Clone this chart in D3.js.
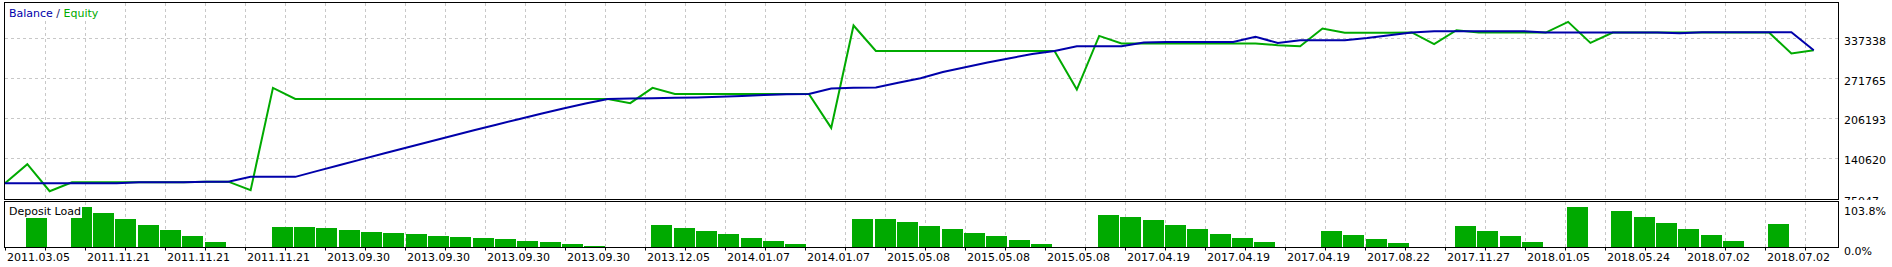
<!DOCTYPE html>
<html>
<head>
<meta charset="utf-8">
<title>Balance / Equity</title>
<script src="https://d3js.org/d3.v7.min.js"></script>
<style>
  body { margin: 0; background: #fff; }
  svg { display: block; font-family: 'DejaVu Sans', sans-serif; font-size: 11px; }
  .grid line { stroke: #c8c8c8; stroke-dasharray: 3,3; shape-rendering: crispEdges; }
  .frame { fill: none; stroke: #000; shape-rendering: crispEdges; }
  .bar { fill: #00aa00; shape-rendering: crispEdges; }
</style>
</head>
<body>
<div class="chart"></div>
<script>
'use strict';

// one value per trade operation
var balance = [
  100000, 100000, 100000, 100000, 100000, 100000, 101600, 101600, 101600, 102700,
  102700, 110500, 110500, 110500, 120300, 130000, 139600, 149300, 158800, 168200,
  177500, 186800, 196000, 205000, 213900, 222600, 230800, 238300, 239000, 239500,
  240100, 240600, 241900, 243200, 244900, 246000, 246500, 255400, 256700, 257000,
  264900, 272300, 282400, 290300, 298000, 305000, 311900, 317000, 324700, 324700,
  324700, 330800, 331800, 331800, 331800, 331800, 340000, 330100, 334600, 334600,
  334600, 338200, 342800, 347200, 349300, 349300, 349300, 349300, 349300, 347200,
  347200, 347200, 347200, 347200, 347200, 346000, 347700, 347700, 347700, 347700,
  347700, 318200
];

var equity = [
  100000, 131300, 87000, 101600, 101600, 101600, 101600, 101600, 101600, 102700,
  102700, 88700, 256400, 238300, 238300, 238300, 238300, 238300, 238300, 238300,
  238300, 238300, 238300, 238300, 238300, 238300, 238300, 238300, 231300, 256400,
  246500, 246500, 246500, 246500, 246500, 246500, 246500, 190800, 358700, 317000,
  317000, 317000, 317000, 317000, 317000, 317000, 317000, 317000, 253700, 341600,
  329100, 329100, 329100, 329100, 329100, 329100, 329100, 326400, 324700, 353700,
  346800, 346800, 346800, 347200, 328000, 350900, 347000, 347000, 347000, 347000,
  364600, 330100, 347200, 347200, 347200, 347200, 347200, 347200, 347200, 347200,
  312800, 318200
];

// deposit load, percent
var depositLoad = [
  0, 75.3, 0, 103.8, 88.2, 72.7, 57.1, 44.9, 28.5, 13.0,
  0, 0, 51.9, 51.9, 49.3, 44.9, 38.9, 36.3, 33.7, 28.5,
  26.0, 23.4, 20.8, 15.6, 13.0, 7.8, 2.6, 0, 0, 57.1,
  49.3, 41.5, 33.7, 23.4, 15.6, 7.8, 0, 0, 72.7, 72.7,
  64.9, 54.5, 46.7, 36.3, 28.5, 18.2, 7.8, 0, 0, 83.0,
  77.9, 70.1, 57.1, 46.7, 33.7, 23.4, 13.0, 0, 0, 41.5,
  31.1, 20.8, 10.4, 0, 0, 54.5, 41.5, 28.5, 13.0, 0,
  103.8, 0, 93.4, 77.9, 62.3, 46.7, 31.1, 15.6, 0, 59.7,
  0, 0
];

var dateLabels = [
  '2011.03.05', '2011.11.21', '2011.11.21', '2011.11.21', '2013.09.30', '2013.09.30',
  '2013.09.30', '2013.09.30', '2013.12.05', '2014.01.07', '2014.01.07', '2015.05.08',
  '2015.05.08', '2015.05.08', '2017.04.19', '2017.04.19', '2017.04.19', '2017.08.22',
  '2017.11.27', '2018.01.05', '2018.05.24', '2018.07.02', '2018.07.02'
];

var balanceTicks = [75047, 140620, 206193, 271765, 337338];
var loadTicks = [0, 103.8];

var width = 1892, height = 267;
var left = 5, right = 1839;
var step = 22.33;

var blue = '#0000aa', green = '#00aa00';

var svg = d3.select('.chart').append('svg')
  .attr('width', width)
  .attr('height', height);

var x = d3.scaleLinear()
  .domain([0, balance.length - 1])
  .range([left, left + (balance.length - 1) * step]);

var y = d3.scaleLinear()
  .domain([75047, 337338])
  .range([198.5, 38.5]);

var yLoad = d3.scaleLinear()
  .domain([0, 103.8])
  .range([247, 207]);

// grid every 40px, labels on every second one
var gridPx = d3.range(left, right, 40);
var tickValues = gridPx.map(function(p) { return x.invert(p); });

//////// upper panel: balance / equity
var upper = svg.append('g');

upper.append('g').attr('class', 'grid')
  .selectAll('line')
  .data(gridPx.slice(1))
  .enter().append('line')
  .attr('x1', function(d) { return d + 0.5; })
  .attr('x2', function(d) { return d + 0.5; })
  .attr('y1', 3)
  .attr('y2', 199);

upper.append('g').attr('class', 'grid')
  .selectAll('line')
  .data(balanceTicks.slice(1))
  .enter().append('line')
  .attr('x1', left)
  .attr('x2', right)
  .attr('y1', function(d) { return Math.round(y(d) - 0.5) + 0.5; })
  .attr('y2', function(d) { return Math.round(y(d) - 0.5) + 0.5; });

var line = d3.line()
  .x(function(d, i) { return x(i); })
  .y(function(d) { return y(d); });

upper.append('path')
  .datum(equity)
  .attr('fill', 'none')
  .attr('stroke', green)
  .attr('stroke-width', 2)
  .attr('d', line);

upper.append('path')
  .datum(balance)
  .attr('fill', 'none')
  .attr('stroke', blue)
  .attr('stroke-width', 2)
  .attr('d', line);

// legend box hides the grid behind it
upper.append('rect')
  .attr('x', left + 1).attr('y', 3)
  .attr('width', 95).attr('height', 18)
  .attr('fill', '#fff');

var legend = upper.append('text')
  .attr('x', 9)
  .attr('y', 16.5);
legend.append('tspan').attr('fill', blue).text('Balance');
legend.append('tspan').attr('fill', '#1a1a6a').text(' / ');
legend.append('tspan').attr('fill', green).text('Equity');

upper.append('rect')
  .attr('class', 'frame')
  .attr('x', 4.5).attr('y', 2.5)
  .attr('width', 1834).attr('height', 197);

var yAxis = upper.append('g')
  .attr('transform', 'translate(' + right + ',0)')
  .call(d3.axisRight(y).tickValues(balanceTicks).tickSize(0).tickPadding(5)
    .tickFormat(d3.format('d')));
yAxis.select('.domain').remove();
yAxis.attr('font-family', null).attr('font-size', null);
yAxis.selectAll('text')
  .attr('dy', null)
  .attr('y', 5.5)
  .attr('fill', '#000');

// lower panel sits on top and clips the last balance label
svg.append('rect')
  .attr('x', 0).attr('y', 200)
  .attr('width', width).attr('height', height - 200)
  .attr('fill', '#fff');

//////// lower panel: deposit load
var lower = svg.append('g');

lower.append('g').attr('class', 'grid')
  .selectAll('line')
  .data(gridPx.slice(1))
  .enter().append('line')
  .attr('x1', function(d) { return d + 0.5; })
  .attr('x2', function(d) { return d + 0.5; })
  .attr('y1', 202)
  .attr('y2', 247);

lower.selectAll('.bar')
  .data(depositLoad.map(function(v, i) { return {i: i, v: v}; })
    .filter(function(d) { return d.v > 0; }))
  .enter().append('rect')
  .attr('class', 'bar')
  .attr('x', function(d) { return Math.round(x(d.i) - 1.3); })
  .attr('width', 21)
  .attr('y', function(d) { return Math.round(yLoad(d.v)); })
  .attr('height', function(d) { return yLoad(0) - Math.round(yLoad(d.v)); });

lower.append('rect')
  .attr('x', left + 1).attr('y', 202)
  .attr('width', 76).attr('height', 16)
  .attr('fill', '#fff');

lower.append('text')
  .attr('x', 9)
  .attr('y', 215)
  .attr('fill', '#000')
  .text('Deposit Load');

lower.append('rect')
  .attr('class', 'frame')
  .attr('x', 4.5).attr('y', 201.5)
  .attr('width', 1834).attr('height', 46);

var loadAxis = lower.append('g')
  .attr('transform', 'translate(' + right + ',0)')
  .call(d3.axisRight(yLoad).tickValues(loadTicks).tickSize(0).tickPadding(5)
    .tickFormat(function(d) { return d.toFixed(1) + '%'; }));
loadAxis.select('.domain').remove();
loadAxis.attr('font-family', null).attr('font-size', null);
loadAxis.selectAll('text')
  .attr('dy', null)
  .attr('y', 7)
  .attr('fill', '#000');

var xAxis = lower.append('g')
  .attr('transform', 'translate(0,247.5)')
  .call(d3.axisBottom(x).tickValues(tickValues).tickSize(3)
    .tickFormat(function(d, i) { return i % 2 ? '' : dateLabels[i / 2]; }));
xAxis.select('.domain').remove();
xAxis.attr('font-family', null).attr('font-size', null);
xAxis.selectAll('line').attr('stroke', '#000');
xAxis.selectAll('text')
  .attr('text-anchor', 'start')
  .attr('dy', null)
  .attr('x', 1.5)
  .attr('y', 13.5)
  .attr('fill', '#000');
</script>
</body>
</html>
